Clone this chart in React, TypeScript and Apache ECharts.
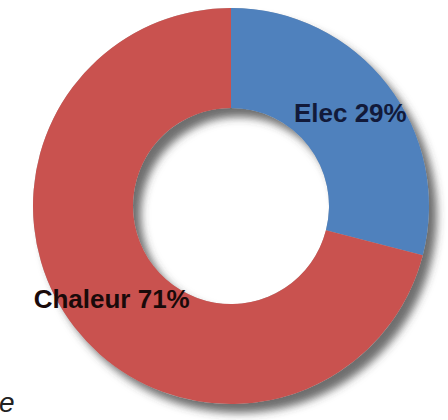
import React, { useEffect, useRef } from "react";
import * as echarts from "echarts";

const categories = ["Elec", "Chaleur"];
const values = [29, 71];
const colors = ["#4F81BD", "#C9524F"];
const labelColors = ["#121a3a", "#1a0a0a"];

export default function App() {
  const ref = useRef<HTMLDivElement>(null);
  useEffect(() => {
    if (!ref.current) return;
    const chart = echarts.init(ref.current, null, { renderer: "svg" });
    const center = [231, 206];
    const radius = [98, 198];
    chart.setOption({
      animation: false,
      backgroundColor: "#ffffff",
      graphic: [
        {
          type: "text",
          left: -1,
          top: 388,
          style: {
            text: "e",
            font: "italic 28px 'Liberation Sans', Arial, sans-serif",
            fill: "#222222",
          },
        },
      ],
      series: [
        {
          type: "pie",
          silent: true,
          z: 1,
          center,
          radius,
          startAngle: 90,
          label: { show: false },
          labelLine: { show: false },
          itemStyle: {
            color: "#b0b0b0",
            shadowColor: "rgba(60,60,60,0.75)",
            shadowBlur: 9,
            shadowOffsetX: 8,
            shadowOffsetY: 9,
          },
          data: [{ name: "shadow", value: 1 }],
        },
        {
          type: "pie",
          z: 2,
          center,
          radius,
          startAngle: 90,
          clockwise: true,
          labelLine: { show: false },
          label: {
            show: true,
            position: "inside",
            formatter: "{b} {c}%",
            fontFamily: "'Liberation Sans Narrow', 'Arial Narrow', sans-serif",
            fontWeight: "bold",
            fontSize: 26,
          },
          data: categories.map((name, i) => ({
            name,
            value: values[i],
            itemStyle: { color: colors[i] },
            label: { color: labelColors[i] },
          })),
        },
      ],
    });
    return () => chart.dispose();
  }, []);
  return (
    <div
      ref={ref}
      style={{ position: "fixed", left: 0, top: 0, width: 448, height: 420 }}
    />
  );
}
